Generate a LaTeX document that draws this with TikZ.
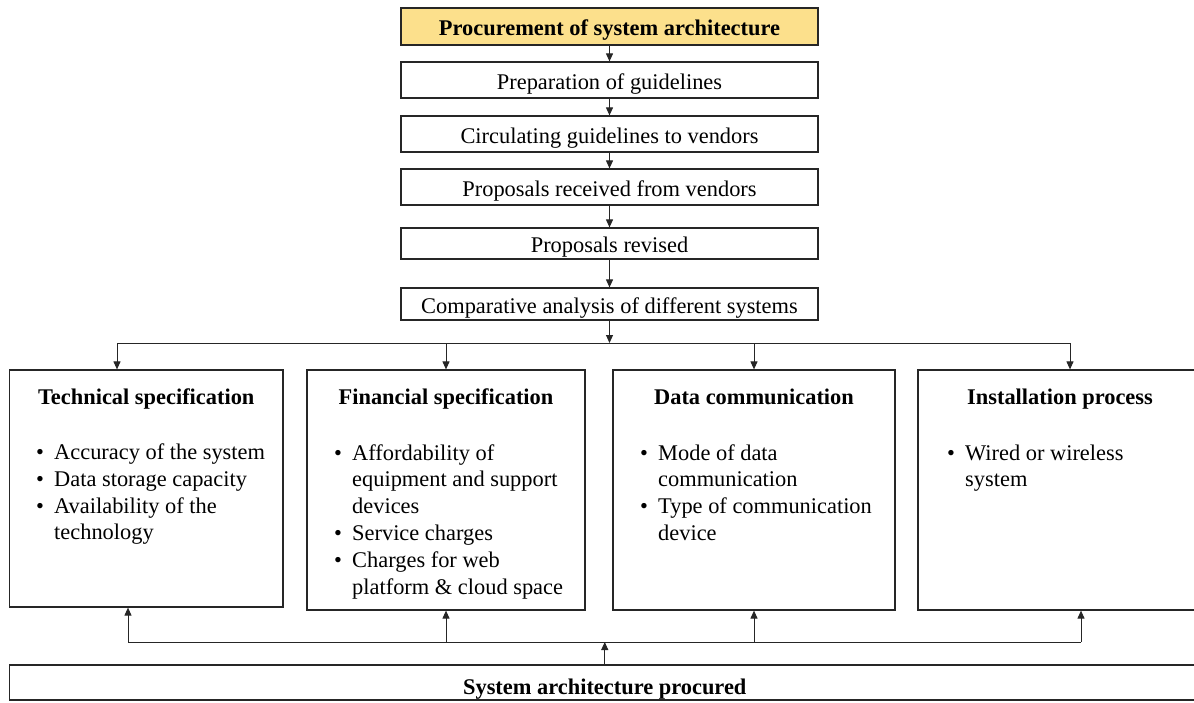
\documentclass[tikz,border=0pt]{standalone}
\usepackage{fontspec}
\setmainfont{Liberation Serif}
\usetikzlibrary{arrows.meta}
\definecolor{gold}{HTML}{FCE08C}
\newcommand\itemdot{\makebox[18pt][l]{\textbullet}}
\begin{document}
\begin{tikzpicture}[x=1pt,y=-1pt,
  font=\fontsize{22.4}{26.8}\selectfont,
  frame/.style={draw=black!85, line width=1.2pt, inner sep=0pt},
  stepbox/.style={frame, minimum width=417pt, text height=20pt, text depth=2pt},
  specbox/.style={frame, minimum height=240pt},
  link/.style={draw=black!85, line width=1pt},
  arr/.style={link, -{Triangle[length=8pt,width=7pt]}},
  head/.style={font=\fontsize{22.4}{26.8}\selectfont\bfseries, anchor=base, inner sep=0pt},
  list/.style={anchor=base west, inner sep=0pt, align=left}
]
\useasboundingbox (0,0) rectangle (1194,702);

% main sequence of steps
\node[stepbox, fill=gold, minimum height=37pt, font=\fontsize{22.4}{26.8}\selectfont\bfseries] (top) at (609.5,26.5) {Procurement of system architecture};
\node[stepbox, minimum height=36pt] (prep) at (609.5,80) {Preparation of guidelines};
\node[stepbox, minimum height=36pt] (circ) at (609.5,134) {Circulating guidelines to vendors};
\node[stepbox, minimum height=36pt] (recv) at (609.5,187) {Proposals received from vendors};
\node[stepbox, minimum height=31pt] (rev) at (609.5,243.5) {Proposals revised};
\node[stepbox, minimum height=32pt] (comp) at (609.5,304) {Comparative analysis of different systems};

% specification boxes
\node[specbox, minimum width=273.5pt, minimum height=237pt] (tech) at (146.25,488.5) {};
\node[specbox, minimum width=278pt] (fin) at (446,490) {};
\node[specbox, minimum width=282pt] (data) at (754,490) {};
\node[specbox, minimum width=284pt] (inst) at (1060,490) {};

\node[head] (techh) at ([yshift=-35pt]tech.north) {Technical specification};
\node[head] (finh) at ([yshift=-35pt]fin.north) {Financial specification};
\node[head] (datah) at ([yshift=-35pt]data.north) {Data communication};
\node[head] (insth) at ([yshift=-35pt]inst.north) {Installation process};

\node[list] (techl) at (36,459.5) {\begin{tabular}[t]{@{}l@{}l@{}}
\itemdot & Accuracy of the system\\
\itemdot & Data storage capacity\\
\itemdot & Availability of the\\
 & technology
\end{tabular}};
\node[list] (finl) at (334,460) {\begin{tabular}[t]{@{}l@{}l@{}}
\itemdot & Affordability of\\
 & equipment and support\\
 & devices\\
\itemdot & Service charges\\
\itemdot & Charges for web\\
 & platform \& cloud space
\end{tabular}};
\node[list] (datal) at (640,460) {\begin{tabular}[t]{@{}l@{}l@{}}
\itemdot & Mode of data\\
 & communication\\
\itemdot & Type of communication\\
 & device
\end{tabular}};
\node[list] (instl) at (947,460) {\begin{tabular}[t]{@{}l@{}l@{}}
\itemdot & Wired or wireless\\
 & system
\end{tabular}};

% final box
\node[frame, minimum width=1190.5pt, minimum height=35pt, text height=26pt, text depth=2pt,
      font=\fontsize{22.4}{26.8}\selectfont\bfseries] (final) at (604.75,682.5) {System architecture procured};

% connectors along the sequence
\draw[arr] (top) -- (prep);
\draw[arr] (prep) -- (circ);
\draw[arr] (circ) -- (recv);
\draw[arr] (recv) -- (rev);
\draw[arr] (rev) -- (comp);

% distribution to the specification boxes
\coordinate (hub) at (609.5,343);
\coordinate (tl) at (117,343);
\coordinate (tr) at (1070,343);
\draw[link] (tl) -- (tr);
\draw[arr] (comp) -- (hub);
\draw[arr] (tl) -- (tl |- tech.north);
\draw[arr] (fin.north |- tl) -- (fin.north);
\draw[arr] (data.north |- tl) -- (data.north);
\draw[arr] (tr) -- (tr |- inst.north);

% collection from the final box
\coordinate (bl) at (128,642);
\coordinate (br) at (1081,642);
\draw[link] (bl) -- (br);
\draw[arr] (final) -- (final.north |- bl);
\draw[arr] (bl) -- (bl |- tech.south);
\draw[arr] (fin.south |- bl) -- (fin.south);
\draw[arr] (data.south |- bl) -- (data.south);
\draw[arr] (br) -- (br |- inst.south);
\end{tikzpicture}
\end{document}
